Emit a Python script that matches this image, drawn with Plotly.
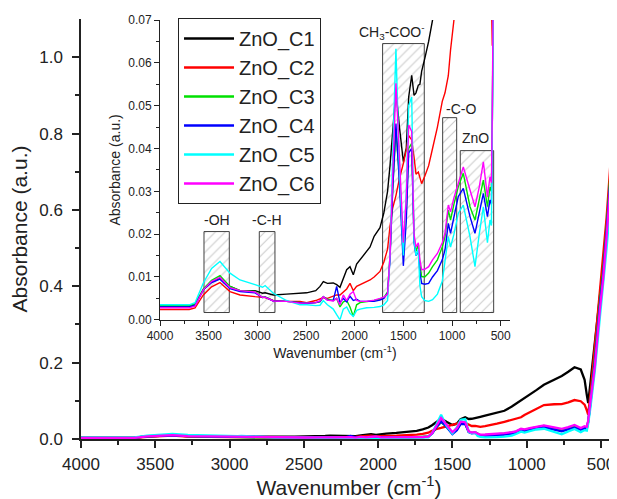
import plotly.graph_objects as go

# Wavenumber grid (cm-1)
wavenumber = [4000, 3700, 3640, 3555, 3470, 3384, 3281, 3178, 3024, 2946,
              2920, 2836, 2700, 2562, 2493, 2400, 2356, 2322, 2280, 2220,
              2185, 2151, 2117, 2082, 2048, 2014, 1980, 1945, 1877, 1842,
              1800, 1740, 1700, 1662, 1637, 1610, 1576, 1540, 1500, 1470,
              1445, 1414, 1390, 1370, 1346, 1330, 1312, 1280, 1240, 1200,
              1150, 1100, 1072, 1038, 1015, 980, 935, 884, 815, 764,
              720, 678, 636, 610, 595, 586, 570, 541, 507, 485,
              462, 440, 417, 395]

zno_c1 = [0.0030, 0.0030, 0.0035, 0.0070, 0.0088, 0.0097, 0.0078, 0.0068, 0.0068, 0.0062,
          0.0063, 0.0058, 0.0060, 0.0062, 0.0063, 0.0068, 0.0078, 0.0089, 0.0085, 0.0086,
          0.0082, 0.0076, 0.0097, 0.0117, 0.0124, 0.0105, 0.0130, 0.0140, 0.0158, 0.0170,
          0.0195, 0.0215, 0.0250, 0.0300, 0.0360, 0.0440, 0.0536, 0.0450, 0.0369, 0.0400,
          0.0520, 0.0571, 0.0524, 0.0530, 0.0548, 0.0550, 0.0580, 0.0610, 0.0650, 0.0700,
          0.0740, 0.0850, 0.0920, 0.1000, 0.1060, 0.1150, 0.1280, 0.1420, 0.1550, 0.1650,
          0.1760, 0.1880, 0.1820, 0.1550, 0.1150, 0.0940, 0.1500, 0.2500, 0.3700, 0.4520,
          0.5600, 0.6400, 0.7600, 0.9900]

zno_c2 = [0.0024, 0.0024, 0.0028, 0.0058, 0.0077, 0.0087, 0.0066, 0.0058, 0.0054, 0.0052,
          0.0052, 0.0045, 0.0043, 0.0043, 0.0040, 0.0045, 0.0048, 0.0052, 0.0050, 0.0056,
          0.0058, 0.0058, 0.0065, 0.0072, 0.0085, 0.0068, 0.0078, 0.0082, 0.0088, 0.0093,
          0.0100, 0.0113, 0.0135, 0.0165, 0.0218, 0.0260, 0.0290, 0.0330, 0.0365, 0.0396,
          0.0430, 0.0420, 0.0380, 0.0340, 0.0345, 0.0330, 0.0318, 0.0335, 0.0360, 0.0400,
          0.0450, 0.0510, 0.0530, 0.0570, 0.0630, 0.0700, 0.0800, 0.0890, 0.0910, 0.0915,
          0.0960, 0.1020, 0.0990, 0.0900, 0.0750, 0.0640, 0.1200, 0.2400, 0.3800, 0.4700,
          0.5800, 0.7000, 0.8500, 1.0400]

zno_c3 = [0.0033, 0.0033, 0.0037, 0.0072, 0.0092, 0.0103, 0.0078, 0.0068, 0.0066, 0.0052,
          0.0054, 0.0044, 0.0043, 0.0040, 0.0039, 0.0040, 0.0042, 0.0054, 0.0048, 0.0045,
          0.0050, 0.0030, 0.0042, 0.0045, 0.0030, 0.0008, 0.0035, 0.0040, 0.0042, 0.0043,
          0.0045, 0.0048, 0.0052, 0.0065, 0.0150, 0.0300, 0.0443, 0.0330, 0.0160, 0.0250,
          0.0400, 0.0412, 0.0190, 0.0160, 0.0175, 0.0130, 0.0101, 0.0100, 0.0109, 0.0124,
          0.0140, 0.0170, 0.0194, 0.0256, 0.0233, 0.0270, 0.0311, 0.0342, 0.0264, 0.0233,
          0.0280, 0.0326, 0.0264, 0.0310, 0.0300, 0.0450, 0.1000, 0.2100, 0.3600, 0.4400,
          0.5500, 0.6700, 0.8000, 0.9800]

zno_c4 = [0.0030, 0.0030, 0.0034, 0.0070, 0.0087, 0.0095, 0.0073, 0.0066, 0.0063, 0.0052,
          0.0053, 0.0044, 0.0043, 0.0039, 0.0038, 0.0040, 0.0043, 0.0054, 0.0046, 0.0045,
          0.0078, 0.0040, 0.0050, 0.0042, 0.0055, 0.0045, 0.0048, 0.0043, 0.0043, 0.0042,
          0.0043, 0.0046, 0.0050, 0.0062, 0.0140, 0.0300, 0.0458, 0.0320, 0.0126, 0.0230,
          0.0390, 0.0400, 0.0180, 0.0150, 0.0160, 0.0110, 0.0085, 0.0083, 0.0085, 0.0100,
          0.0115, 0.0140, 0.0163, 0.0225, 0.0202, 0.0240, 0.0288, 0.0307, 0.0241, 0.0202,
          0.0250, 0.0295, 0.0241, 0.0280, 0.0270, 0.0450, 0.0950, 0.2000, 0.3500, 0.4300,
          0.5400, 0.6500, 0.7800, 0.9500]

zno_c5 = [0.0035, 0.0035, 0.0040, 0.0086, 0.0120, 0.0136, 0.0109, 0.0093, 0.0082, 0.0076,
          0.0080, 0.0062, 0.0045, 0.0035, 0.0035, 0.0033, 0.0034, 0.0045, 0.0035, 0.0025,
          0.0012, 0.0000, 0.0025, 0.0030, 0.0015, 0.0008, 0.0022, 0.0025, 0.0028, 0.0028,
          0.0029, 0.0031, 0.0035, 0.0045, 0.0150, 0.0380, 0.0633, 0.0350, 0.0150, 0.0300,
          0.0500, 0.0520, 0.0186, 0.0150, 0.0165, 0.0080, 0.0054, 0.0045, 0.0043, 0.0047,
          0.0060, 0.0090, 0.0132, 0.0194, 0.0170, 0.0200, 0.0249, 0.0268, 0.0194, 0.0124,
          0.0200, 0.0264, 0.0180, 0.0233, 0.0220, 0.0400, 0.0850, 0.1800, 0.3200, 0.4000,
          0.5000, 0.6000, 0.7000, 0.8000]

zno_c6 = [0.0028, 0.0028, 0.0032, 0.0070, 0.0090, 0.0099, 0.0075, 0.0068, 0.0065, 0.0052,
          0.0053, 0.0044, 0.0043, 0.0039, 0.0039, 0.0040, 0.0044, 0.0054, 0.0046, 0.0044,
          0.0050, 0.0035, 0.0058, 0.0045, 0.0060, 0.0066, 0.0045, 0.0043, 0.0043, 0.0044,
          0.0046, 0.0050, 0.0053, 0.0060, 0.0150, 0.0330, 0.0552, 0.0380, 0.0180, 0.0280,
          0.0455, 0.0440, 0.0200, 0.0170, 0.0180, 0.0140, 0.0117, 0.0118, 0.0124, 0.0140,
          0.0155, 0.0180, 0.0202, 0.0268, 0.0252, 0.0285, 0.0319, 0.0357, 0.0303, 0.0264,
          0.0310, 0.0369, 0.0287, 0.0334, 0.0320, 0.0480, 0.1000, 0.1900, 0.3400, 0.4200,
          0.5300, 0.6400, 0.7700, 0.9300]

series_names = ["ZnO_C1", "ZnO_C2", "ZnO_C3", "ZnO_C4", "ZnO_C5", "ZnO_C6"]
series_values = [zno_c1, zno_c2, zno_c3, zno_c4, zno_c5, zno_c6]
series_colors = ["#000000", "#ff0000", "#00e000", "#0000ff", "#00ffff", "#ff00ff"]

# Band assignment boxes in the inset: label, wavenumber from, to, absorbance top
band_labels = ["-OH", "-C-H", "CH<sub>3</sub>-COO<sup>-</sup>", "-C-O", "ZnO"]
band_from = [3548, 2980, 1713, 1096, 915]
band_to = [3288, 2819, 1285, 952, 572]
band_top = [0.0206, 0.0206, 0.0645, 0.0472, 0.0395]
band_bottom = 0.0017
label_x = [3418, 2900, 1612, 910, 756]
label_y = [0.0233, 0.0233, 0.0672, 0.0493, 0.0424]

FONT = "Arial, Liberation Sans, sans-serif"

fig = go.Figure()

# hatched boxes (inset)
fig.add_trace(go.Bar(
    x=[(a + b) / 2 for a, b in zip(band_from, band_to)],
    y=[t - band_bottom for t in band_top],
    base=[band_bottom] * len(band_from),
    width=[a - b for a, b in zip(band_from, band_to)],
    xaxis="x2", yaxis="y2", showlegend=False, hoverinfo="skip",
    marker=dict(color="white",
                pattern=dict(shape="/", fgcolor="#999999", bgcolor="white",
                             size=7, solidity=0.16),
                line=dict(color="#404040", width=1)),
))

# main traces
for name, vals, col in zip(series_names, series_values, series_colors):
    fig.add_trace(go.Scatter(x=wavenumber, y=vals, mode="lines", name=name,
                             line=dict(color=col, width=2.3),
                             xaxis="x", yaxis="y"))
# inset traces
for name, vals, col in zip(series_names, series_values, series_colors):
    fig.add_trace(go.Scatter(x=wavenumber, y=vals, mode="lines", name=name,
                             line=dict(color=col, width=1.4), showlegend=False,
                             xaxis="x2", yaxis="y2"))

annotations = []
for lab, lx, ly in zip(band_labels, label_x, label_y):
    annotations.append(dict(x=lx, y=ly, xref="x2", yref="y2", text=lab,
                            showarrow=False, font=dict(family=FONT, size=14, color="#222")))

axis_common = dict(showline=True, linecolor="#222", linewidth=1.5, ticks="outside",
                   tickcolor="#222", showgrid=False, zeroline=False, mirror=False)

# The page body adds an 8 px offset, so the figure is 8 px smaller on each side
fig.update_layout(
    width=609, height=491,
    margin=dict(l=73, r=0, t=11, b=60, autoexpand=False),
    paper_bgcolor="white", plot_bgcolor="white",
    font=dict(family=FONT, color="#222"),
    barmode="overlay",
    xaxis=dict(domain=[0, 1], range=[4000, 392], anchor="y",
               tickvals=[4000, 3500, 3000, 2500, 2000, 1500, 1000, 500],
               ticklen=7, tickwidth=1.5,
               minor=dict(tickvals=[3750, 3250, 2750, 2250, 1750, 1250, 750],
                          ticklen=4, tickcolor="#222", ticks="outside"),
               tickfont=dict(size=17), ticklabelstandoff=2,
               title=dict(text="Wavenumber (cm<sup>-1</sup>)", font=dict(size=21), standoff=6),
               **axis_common),
    yaxis=dict(domain=[0, 1], range=[0, 1.1], anchor="x",
               tickvals=[0, 0.2, 0.4, 0.6, 0.8, 1.0], tickformat=".1f",
               ticklen=7, tickwidth=1.5,
               minor=dict(tickvals=[0.1, 0.3, 0.5, 0.7, 0.9], ticklen=4,
                          tickcolor="#222", ticks="outside"),
               tickfont=dict(size=17), ticklabelstandoff=6,
               title=dict(text="Absorbance (a.u.)", font=dict(size=21), standoff=8),
               **axis_common),
    xaxis2=dict(domain=[0.1474, 0.8004], range=[4000, 404], anchor="y2",
                tickvals=[4000, 3500, 3000, 2500, 2000, 1500, 1000, 500],
                ticklen=5, tickwidth=1,
                minor=dict(tickvals=[3750, 3250, 2750, 2250, 1750, 1250, 750],
                           ticklen=3, tickcolor="#222", ticks="outside"),
                tickfont=dict(size=12),
                title=dict(text="Wavenumber (cm<sup>-1</sup>)", font=dict(size=14), standoff=4),
                showline=True, linecolor="#222", linewidth=1, ticks="outside",
                tickcolor="#222", showgrid=False, zeroline=False),
    yaxis2=dict(domain=[0.2838, 0.9976], range=[0, 0.07], anchor="x2",
                tickvals=[0, 0.01, 0.02, 0.03, 0.04, 0.05, 0.06, 0.07], tickformat=".2f",
                ticklen=5, tickwidth=1,
                minor=dict(tickvals=[0.005, 0.015, 0.025, 0.035, 0.045, 0.055, 0.065],
                           ticklen=3, tickcolor="#222", ticks="outside"),
                tickfont=dict(size=12),
                title=dict(text="Absorbance (a.u.)", font=dict(size=14), standoff=4),
                showline=True, linecolor="#222", linewidth=1, ticks="outside",
                tickcolor="#222", showgrid=False, zeroline=False),
    legend=dict(x=0.181, y=1.0024, xanchor="left", yanchor="top",
                bgcolor="white", bordercolor="#222", borderwidth=1,
                font=dict(size=20, family=FONT, color="#222"),
                itemwidth=50, tracegroupgap=0, traceorder="normal"),
    annotations=annotations,
    showlegend=True,
)

fig.write_html("out.html")
